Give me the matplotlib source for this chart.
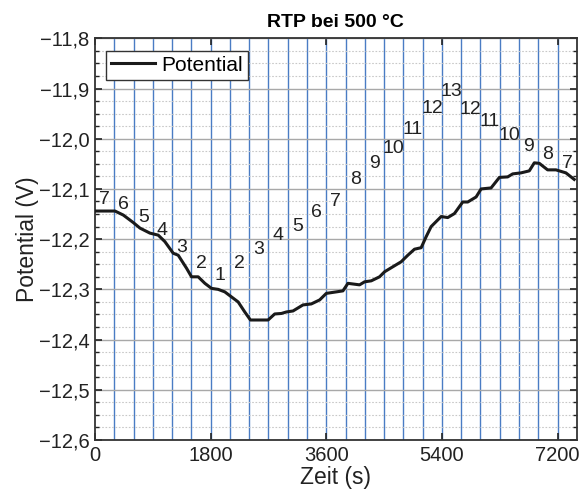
import numpy as np
import matplotlib.pyplot as plt
from matplotlib.ticker import FuncFormatter, MultipleLocator

plt.rcParams['font.family'] = ['Liberation Sans', 'DejaVu Sans']

# Messkurve (Zeit in s, Potential in V)
zeit = [0, 311, 440, 596, 700, 855, 984, 1088, 1217, 1295, 1425, 1502, 1606,
        1710, 1813, 1917, 2020, 2124, 2228, 2331, 2419, 2694, 2797, 2901,
        2979, 3082, 3237, 3367, 3497, 3600, 3756, 3859, 3937, 4118, 4196,
        4300, 4429, 4507, 4636, 4766, 4869, 4973, 5077, 5155, 5232, 5388,
        5491, 5595, 5724, 5802, 5932, 6010, 6165, 6295, 6424, 6502, 6631,
        6760, 6838, 6916, 7045, 7175, 7330, 7459]
potential = [-12.144, -12.144, -12.152, -12.167, -12.178, -12.188, -12.192,
             -12.205, -12.228, -12.232, -12.258, -12.275, -12.275, -12.288,
             -12.298, -12.300, -12.305, -12.315, -12.325, -12.345, -12.361,
             -12.361, -12.349, -12.348, -12.345, -12.343, -12.331, -12.329,
             -12.321, -12.308, -12.305, -12.303, -12.288, -12.291, -12.285,
             -12.283, -12.275, -12.265, -12.255, -12.245, -12.232, -12.220,
             -12.217, -12.195, -12.175, -12.155, -12.157, -12.149, -12.126,
             -12.126, -12.116, -12.100, -12.098, -12.077, -12.076, -12.070,
             -12.068, -12.064, -12.048, -12.049, -12.062, -12.062, -12.068,
             -12.081]

# Stufen-Beschriftung je 300-s-Intervall
stufen = [7, 6, 5, 4, 3, 2, 1, 2, 3, 4, 5, 6, 7, 8, 9, 10, 11, 12, 13,
          12, 11, 10, 9, 8, 7]
stufen_y = [-12.122, -12.131, -12.157, -12.182, -12.217, -12.248, -12.273,
            -12.248, -12.220, -12.192, -12.175, -12.147, -12.126, -12.081,
            -12.050, -12.019, -11.981, -11.939, -11.905, -11.941, -11.965,
            -11.994, -12.015, -12.031, -12.050]
intervall = 300

fig = plt.figure(figsize=(5.88, 4.93), dpi=100)
ax = fig.add_axes([0.1616, 0.1075, 0.8194, 0.8148])

ax.set_xlim(0, 7500)
ax.set_ylim(-12.6, -11.8)

ax.yaxis.set_major_locator(MultipleLocator(0.1))
ax.yaxis.set_minor_locator(MultipleLocator(0.025))
ax.xaxis.set_major_locator(MultipleLocator(1800))
ax.grid(which='major', axis='y', color='#a8a8a8', linewidth=1.0)
ax.grid(which='minor', axis='y', color='#c8c8c8', linewidth=0.8, linestyle=(0, (1.5, 1.5)))

# blaue Intervall-Linien
for i in range(1, len(stufen)):
    ax.axvline(i * intervall, color='#4a7cc4', linewidth=1.0, zorder=1)

ax.plot(zeit, potential, color='#1a1a1a', linewidth=2.2, label='Potential', zorder=3)

for i, (s, y) in enumerate(zip(stufen, stufen_y)):
    ax.text(i * intervall + intervall / 2, y, str(s), fontsize=14,
            ha='center', va='center', color='#222222', zorder=4)

fmt = FuncFormatter(lambda v, p: ('%.1f' % v).replace('-', '\u2212').replace('.', ','))
ax.yaxis.set_major_formatter(fmt)
ax.xaxis.set_major_formatter(FuncFormatter(lambda v, p: '%d' % v))

ax.tick_params(which='both', direction='in', top=True, right=True, labelsize=14.5,
               colors='#222222')
ax.tick_params(which='major', length=5, width=1.2, pad=4)
ax.tick_params(which='minor', length=3, width=1.0)
for sp in ax.spines.values():
    sp.set_linewidth(1.3)
    sp.set_color('#333333')

ax.set_xlabel('Zeit (s)', fontsize=16.5, labelpad=1, color='#222222')
ax.set_ylabel('Potential (V)', fontsize=16.5, labelpad=0, color='#222222')
ax.set_title('RTP bei 500 °C', fontsize=14, fontweight='bold', pad=8)

leg = ax.legend(loc='upper left', fontsize=15, fancybox=False, framealpha=1,
                edgecolor='#333333', handlelength=2.1, handletextpad=0.3,
                borderpad=0.25, borderaxespad=0.3, bbox_to_anchor=(0.01, 0.985))
leg.get_frame().set_linewidth(1.0)

fig.savefig('out.png', dpi=100)
